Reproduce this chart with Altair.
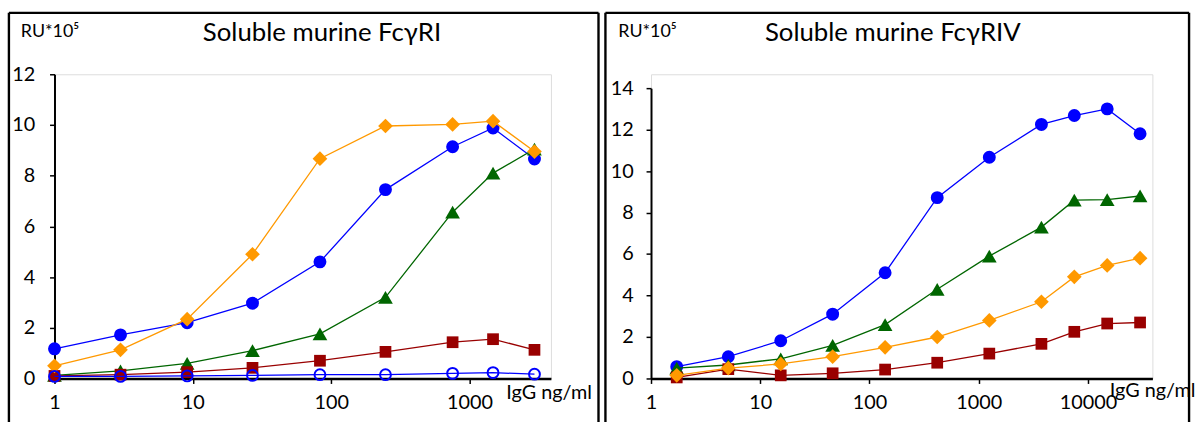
import altair as alt
import pandas as pd

# ---------------- data ----------------
x_left = [1, 3, 9.1, 27, 83, 247, 755, 1480, 2950]
left_blue = [1.17, 1.72, 2.2, 2.97, 4.6, 7.45, 9.14, 9.88, 8.66]
left_green = [0.12, 0.3, 0.6, 1.1, 1.76, 3.2, 6.56, 8.1, 9.05]
left_red = [0.1, 0.15, 0.25, 0.42, 0.7, 1.05, 1.43, 1.55, 1.13]
left_orange = [0.5, 1.13, 2.34, 4.9, 8.67, 9.96, 10.02, 10.15, 8.95]
left_open = [0.08, 0.08, 0.1, 0.12, 0.15, 0.15, 0.2, 0.23, 0.17]

x_right = [1.72, 5.1, 15.4, 46, 139, 417, 1250, 3750, 7500, 15000, 30000]
right_blue = [0.57, 1.05, 1.82, 3.1, 5.1, 8.72, 10.67, 12.25, 12.68, 13.0, 11.8]
right_green = [0.5, 0.65, 0.95, 1.6, 2.6, 4.3, 5.9, 7.3, 8.6, 8.62, 8.8]
right_orange = [0.15, 0.5, 0.7, 1.05, 1.5, 2.0, 2.8, 3.7, 4.9, 5.45, 5.8]
right_red = [0.05, 0.45, 0.15, 0.25, 0.43, 0.76, 1.2, 1.67, 2.25, 2.65, 2.7]

x_ticks_left = [1, 10, 100, 1000]
x_ticks_right = [1, 10, 100, 1000, 10000]
y_ticks_left = [0, 2, 4, 6, 8, 10, 12]
y_ticks_right = [0, 2, 4, 6, 8, 10, 12, 14]

title_left = "Soluble murine FcγRI"
title_right = "Soluble murine FcγRIV"
y_label = "RU*10⁵"
x_label = "IgG ng/ml"

FONT = "Lato"
BLUE = "#0000FF"
GREEN = "#006600"
RED = "#990000"
ORANGE = "#FF9900"

STYLES = {
    "blue": (BLUE, "circle", 170, True),
    "green": (GREEN, "triangle-up", 220, True),
    "red": (RED, "square", 140, True),
    "orange": (ORANGE, "diamond", 220, True),
    "open": (BLUE, "circle", 120, False),
}


def series_layer(xs, ys, key, xscale, yscale):
    color, shape, size, filled = STYLES[key]
    df = pd.DataFrame({"x": xs, "y": ys})
    base = alt.Chart(df).encode(
        x=alt.X("x:Q", scale=xscale),
        y=alt.Y("y:Q", scale=yscale),
    )
    line = base.mark_line(color=color, strokeWidth=1.3)
    if filled:
        pts = base.mark_point(shape=shape, size=size, filled=True, color=color, opacity=1)
    else:
        pts = base.mark_point(shape=shape, size=size, filled=False, color=color,
                              strokeWidth=2, opacity=1)
    return line + pts


def panel(xs, series, xdomain, width, ydomain, yrange, xticks, yticks,
          title, title_x, ylab_x, xlab_x, xlab_y, ylabpad, frame_right):
    xscale = alt.Scale(type="log", domain=xdomain, nice=False)
    yscale = alt.Scale(domain=ydomain, range=yrange, nice=False, zero=False)
    xaxis = alt.Axis(values=xticks, format="d", grid=False, title=None,
                     domainColor="black", domainWidth=2.5, tickColor="black",
                     tickWidth=1.5, tickSize=5, labelFontSize=20, labelColor="black",
                     labelFont=FONT, labelPadding=9, labelFlush=False, labelOverlap=False)
    yaxis = alt.Axis(values=yticks, grid=False, title=None,
                     domainColor="black", domainWidth=2, tickColor="black",
                     tickWidth=1.5, tickSize=5, labelFontSize=20, labelColor="black",
                     labelFont=FONT, labelPadding=ylabpad)
    first_key, first_ys = series[0]
    holder = alt.Chart(pd.DataFrame({"x": xs, "y": first_ys})).mark_point(opacity=0).encode(
        x=alt.X("x:Q", scale=xscale, axis=xaxis),
        y=alt.Y("y:Q", scale=yscale, axis=yaxis),
    )
    layers = [holder]
    for key, ys in series:
        layers.append(series_layer(xs, ys, key, xscale, yscale))

    txt = pd.DataFrame({"t": [0]})
    sw = 2.4
    top_rule = alt.Chart(txt).mark_rule(color="black", strokeWidth=sw).encode(
        x=alt.value(-46), x2=alt.value(frame_right), y=alt.value(-62))
    left_rule = alt.Chart(txt).mark_rule(color="black", strokeWidth=sw).encode(
        x=alt.value(-46), y=alt.value(-62), y2=alt.value(351))
    frame_layers = [top_rule, left_rule]
    if frame_right < 550:
        right_rule = alt.Chart(txt).mark_rule(color="black", strokeWidth=sw).encode(
            x=alt.value(frame_right), y=alt.value(-62), y2=alt.value(351))
        frame_layers.append(right_rule)
    ttl = alt.Chart(txt).mark_text(text=title, font=FONT, fontSize=26, color="black",
                                   align="center", baseline="middle").encode(
        x=alt.value(title_x), y=alt.value(-42))
    ylab = alt.Chart(txt).mark_text(text=y_label, font=FONT, fontSize=18, color="black",
                                    align="left", baseline="middle").encode(
        x=alt.value(ylab_x), y=alt.value(-43))
    xlab = alt.Chart(txt).mark_text(text=x_label, font=FONT, fontSize=20, color="black",
                                    align="left", baseline="middle").encode(
        x=alt.value(xlab_x), y=alt.value(xlab_y))
    return alt.layer(*frame_layers, *layers, ttl, ylab, xlab).properties(width=width, height=307)


left = panel(
    x_left,
    [("blue", left_blue), ("green", left_green), ("red", left_red),
     ("orange", left_orange), ("open", left_open)],
    [1, 3880], 501, [0, 12], [307, 0], x_ticks_left, y_ticks_left,
    title_left, 270, -34, 456, 322, 15, 549,
)
right = panel(
    x_right,
    [("blue", right_blue), ("green", right_green), ("red", right_red),
     ("orange", right_orange)],
    [1, 38900], 506, [0, 14], [307, 14], x_ticks_right, y_ticks_right,
    title_right, 244, -33, 463, 320, 13, 543,
)

chart = alt.hconcat(left, right, spacing=3).properties(
    padding={"left": 7, "top": 9, "right": 0, "bottom": 0}
).configure_view(stroke=None).configure(background="white")

chart.save("out.html", embed_options={"renderer": "svg", "actions": False})
